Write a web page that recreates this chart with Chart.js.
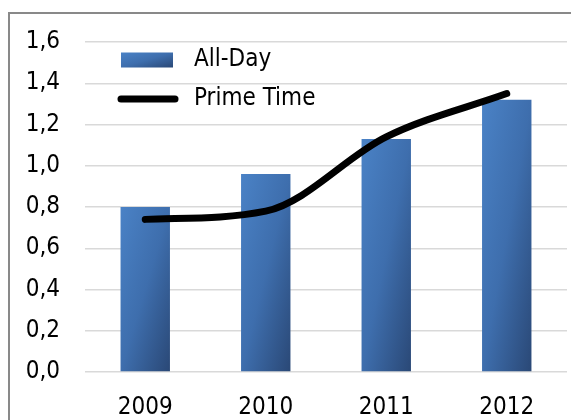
<!DOCTYPE html>
<html>
<head>
<meta charset="utf-8">
<script src="https://cdn.jsdelivr.net/npm/chart.js@4/dist/chart.umd.min.js"></script>
<style>
  body { margin: 0; background: #fff; }
  #wrap { position: relative; width: 571px; height: 420px; overflow: hidden; }
  #frame { position: absolute; left: 8px; top: 12px; width: 700px; height: 600px;
           border-left: 2px solid #898989; border-top: 2px solid #898989; pointer-events: none; }
  canvas { position: absolute; left: 0; top: 0; }
</style>
</head>
<body>
<div id="wrap">
  <canvas id="chart" width="571" height="420"></canvas>
  <div id="frame"></div>
</div>
<script>
const years = ['2009', '2010', '2011', '2012'];
const allDay = [0.80, 0.96, 1.13, 1.32];
const primeTime = [0.74, 0.78, 1.14, 1.35];
const yTicks = [0, 0.2, 0.4, 0.6, 0.8, 1.0, 1.2, 1.4, 1.6];

const FONT = '"DejaVu Sans Condensed", "DejaVu Sans", sans-serif';

// gradient running from the top-left corner to the bottom-right corner of a box,
// along a mostly horizontal direction
function boxGradient(ctx, l, t, r, b) {
    const w = r - l, h = b - t;
    const k = w / h;
    const s = (w + k * h) / (1 + k * k);
    const g = ctx.createLinearGradient(l, t, l + s, t + k * s);
    g.addColorStop(0, '#4a82c6');
    g.addColorStop(0.5, '#3e6ead');
    g.addColorStop(1, '#2a4876');
    return g;
}

// each bar has its own options (scriptable colour), so each gets its own gradient
const gradientBars = {
    id: 'gradientBars',
    beforeDatasetsDraw(chart) {
        chart.data.datasets.forEach((ds, i) => {
            if (ds.type !== 'bar') return;
            chart.getDatasetMeta(i).data.forEach(bar => {
                bar.options.backgroundColor = boxGradient(chart.ctx,
                    bar.x - bar.width / 2, bar.y, bar.x + bar.width / 2, bar.base);
            });
        });
    }
};

// legend drawn inside the plot, top-left
const innerLegend = {
    id: 'innerLegend',
    afterDatasetsDraw(chart) {
        const ctx = chart.ctx;
        const bars = chart.data.datasets.find(d => d.type === 'bar');
        const line = chart.data.datasets.find(d => d.type === 'line');
        const x = chart.chartArea.left + 36;
        const y1 = chart.chartArea.top + 18;
        const y2 = y1 + 39;
        ctx.save();
        ctx.fillStyle = boxGradient(ctx, x, y1 - 7.5, x + 52, y1 + 7.5);
        ctx.fillRect(x, y1 - 7.5, 52, 15);
        ctx.strokeStyle = '#000';
        ctx.lineWidth = 7;
        ctx.lineCap = 'round';
        ctx.beginPath();
        ctx.moveTo(x, y2);
        ctx.lineTo(x + 54, y2);
        ctx.stroke();
        ctx.fillStyle = '#000';
        ctx.font = '24px ' + FONT;
        ctx.textBaseline = 'middle';
        ctx.fillText(bars.label, x + 73, y1);
        ctx.fillText(line.label, x + 73, y2);
        ctx.restore();
    }
};

new Chart(document.getElementById('chart').getContext('2d'), {
    data: {
        labels: years,
        datasets: [
            {
                type: 'line',
                label: 'Prime Time',
                data: primeTime,
                borderColor: '#000',
                borderWidth: 7,
                borderCapStyle: 'round',
                cubicInterpolationMode: 'monotone',
                pointRadius: 0,
                order: 0
            },
            {
                type: 'bar',
                label: 'All-Day',
                data: allDay,
                backgroundColor: () => '#3d6dab',
                categoryPercentage: 1,
                barPercentage: 0.41,
                order: 1
            }
        ]
    },
    options: {
        responsive: false,
        animation: false,
        layout: { padding: { left: 0, top: 42, right: 4, bottom: 0 } },
        plugins: {
            legend: { display: false },
            tooltip: { enabled: false }
        },
        scales: {
            x: {
                grid: { display: false },
                border: { display: false },
                ticks: { color: '#000', font: { family: FONT, size: 24 }, padding: 13 },
                afterFit(s) { s.height = 48; }
            },
            y: {
                min: 0,
                max: 1.6,
                afterBuildTicks(s) { s.ticks = yTicks.map(v => ({ value: v })); },
                grid: { color: '#d9d9d9', lineWidth: 1.5, drawTicks: false },
                border: { display: false },
                ticks: {
                    color: '#000',
                    font: { family: FONT, size: 24 },
                    padding: 25,
                    callback: v => v.toFixed(1).replace('.', ',')
                },
                afterFit(s) { s.width = 85; }
            }
        }
    },
    plugins: [gradientBars, innerLegend]
});
</script>
</body>
</html>
